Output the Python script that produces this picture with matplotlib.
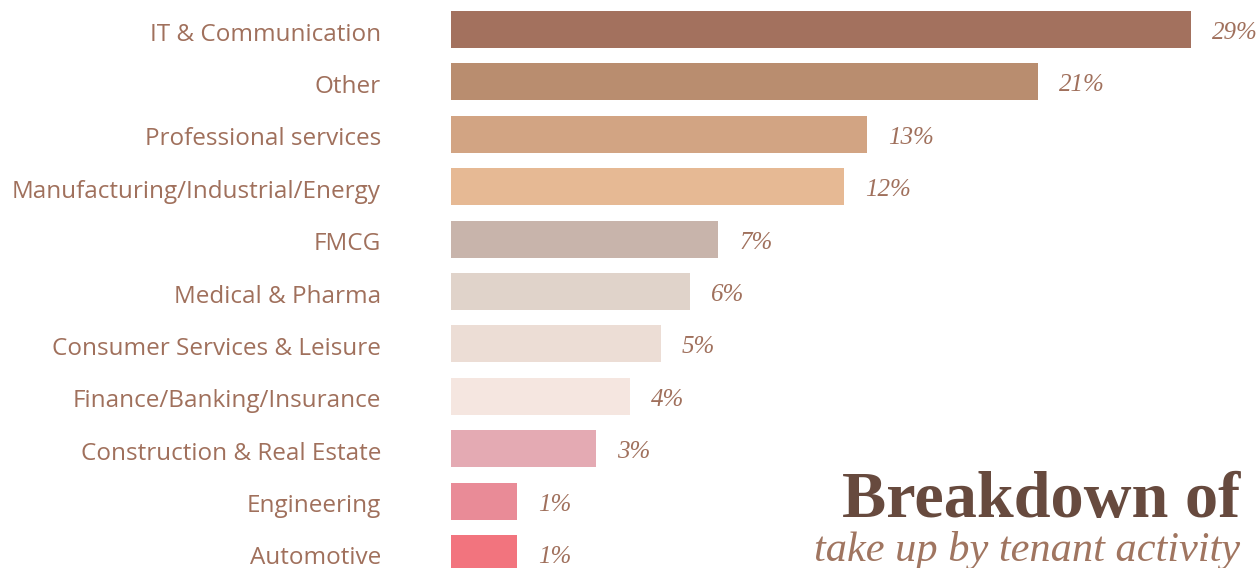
import matplotlib
matplotlib.use("Agg")
import matplotlib.pyplot as plt
import numpy as np

# Tenant activity categories, top to bottom
categories = [
    "IT & Communication",
    "Other",
    "Professional services",
    "Manufacturing/Industrial/Energy",
    "FMCG",
    "Medical & Pharma",
    "Consumer Services & Leisure",
    "Finance/Banking/Insurance",
    "Construction & Real Estate",
    "Engineering",
    "Automotive",
]
# Share of take-up (%)
shares = [29, 21, 13, 12, 7, 6, 5, 4, 3, 1, 1]
value_labels = ["29%", "21%", "13%", "12%", "7%", "6%", "5%", "4%", "3%", "1%", "1%"]
bar_colors = [
    "#A3715E", "#B98D6F", "#D2A483", "#E6B994", "#C8B4AB", "#E0D3CA",
    "#ECDDD5", "#F5E6E0", "#E4AAB3", "#E98B97", "#F2747E",
]

label_color = "#A0705C"
title_color = "#674A3E"
subtitle_color = "#A07560"

W, H, DPI = 1260, 568, 100
fig = plt.figure(figsize=(W / DPI, H / DPI), dpi=DPI)
fig.patch.set_facecolor("white")

# Axes: bars start at x=451 px; the full figure height is used for rows
ax_left = 451 / W
ax_width = 740 / W
ax = fig.add_axes([ax_left, 0, ax_width, 1])

# Compressed (power) value scale so small shares stay readable
power = 0.717
ax.set_xscale("function", functions=(lambda v: np.sign(v) * np.abs(v) ** power,
                                     lambda t: np.sign(t) * np.abs(t) ** (1 / power)))

y = np.arange(len(categories))
ax.barh(y, shares, height=0.706, color=bar_colors, edgecolor="none")

ax.set_xlim(0, max(shares))
pitch = 52.4
top_center = 29.5
ax.set_ylim((H - top_center) / pitch, -top_center / pitch)

ax.set_yticks([])
ax.set_xticks([])
for s in ax.spines.values():
    s.set_visible(False)
ax.set_facecolor("none")

# Category names, right-aligned left of the bars
for yi, name in zip(y, categories):
    ax.annotate(name, xy=(0, yi), xytext=(-70, -11), textcoords="offset pixels",
                ha="right", va="baseline", fontsize=17.5, family="Open Sans",
                color=label_color, annotation_clip=False)

# Value labels at the bar ends
for yi, v, lab in zip(y, shares, value_labels):
    ax.annotate(lab, xy=(v, yi), xytext=(21, -9.5), textcoords="offset pixels",
                ha="left", va="baseline", fontsize=18, style="italic",
                family="Liberation Serif", color=label_color, annotation_clip=False)

# Title block, bottom right
fig.text(1240 / W, (H - 517) / H, "Breakdown of", ha="right", va="baseline",
         fontsize=47.7, fontweight="bold", family="Liberation Serif", color=title_color)
fig.text(1240 / W, (H - 561) / H, "take up by tenant activity", ha="right", va="baseline",
         fontsize=30.5, style="italic", family="Liberation Serif", color=subtitle_color)

fig.savefig("out.png", dpi=DPI, facecolor="white")
